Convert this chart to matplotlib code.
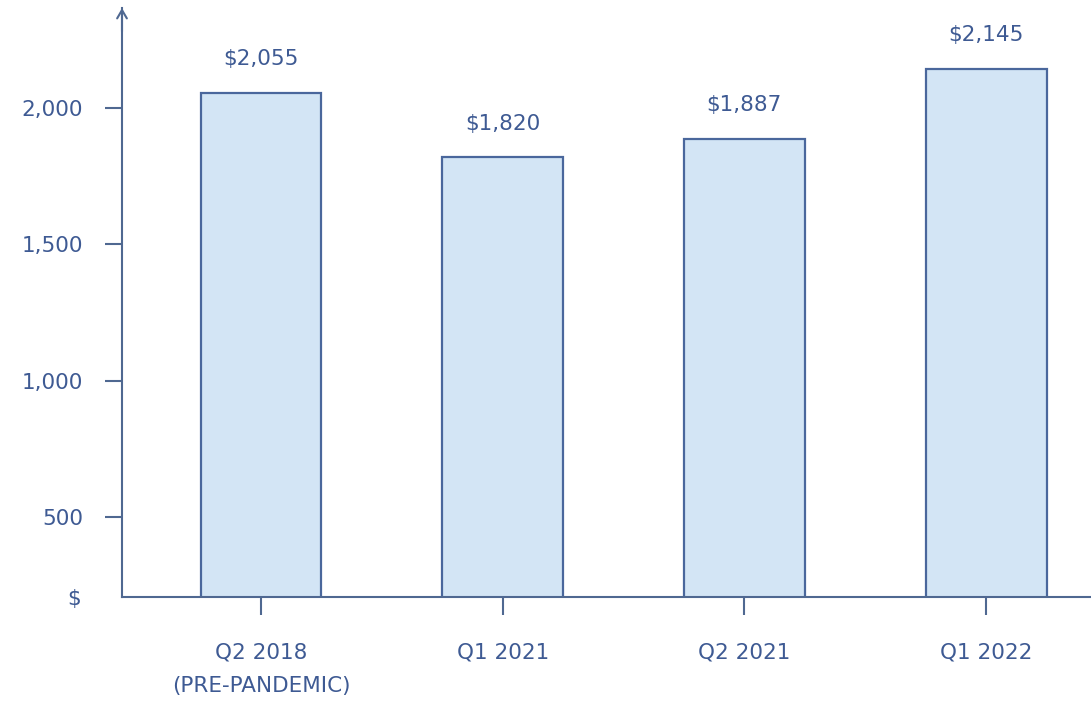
import matplotlib
matplotlib.use("Agg")
import matplotlib.pyplot as plt

categories = ["Q2 2018\n(PRE-PANDEMIC)", "Q1 2021", "Q2 2021", "Q1 2022"]
values = [2055, 1820, 1887, 2145]
value_labels = ["$2,055", "$1,820", "$1,887", "$2,145"]
y_ticks = [500, 1000, 1500, 2000]
y_tick_labels = ["500", "1,000", "1,500", "2,000"]

TEXT = "#3e5a93"
LINE = "#4f6891"
FILL = "#d3e5f5"
EDGE = "#4a679c"
FS = 15.5

plt.rcParams["font.family"] = ["DejaVu Sans"]

fig = plt.figure(figsize=(10.91, 7.04), dpi=100)
ax = fig.add_axes([122 / 1091, (704 - 597) / 704, 1 - 122 / 1091, (597 - 8) / 704])

x = list(range(len(categories)))
ax.bar(x, values, width=0.5, color=FILL, edgecolor=EDGE, linewidth=1.6, zorder=2)

for xi, v, lab in zip(x, values, value_labels):
    ax.annotate(lab, (xi, v), xytext=(0, 17), textcoords="offset points",
                ha="center", va="bottom", fontsize=FS, color=TEXT)

ax.set_xlim(-0.575, 3.434)
ax.set_ylim(207, 2367)

ax.set_xticks(x)
ax.set_xticklabels(categories, fontsize=FS, color=TEXT, linespacing=1.8)
ax.set_yticks(y_ticks)
ax.set_yticklabels(y_tick_labels, fontsize=FS, color=TEXT)

ax.tick_params(axis="y", length=12, width=1.5, color=LINE, pad=16)
ax.tick_params(axis="x", length=13, width=1.5, color=LINE, pad=20)

for side in ("top", "right"):
    ax.spines[side].set_visible(False)
for side in ("left", "bottom"):
    ax.spines[side].set_color(LINE)
    ax.spines[side].set_linewidth(1.5)

# open arrowhead at the top of the value axis
ax.annotate("", xy=(0, 1.0), xytext=(0, 0.96), xycoords="axes fraction",
            arrowprops=dict(arrowstyle="->,head_length=0.6,head_width=0.35",
                            color=LINE, lw=1.5, shrinkA=0, shrinkB=0),
            annotation_clip=False)

# currency unit under the value scale
ax.text(-0.042, -0.003, "$", transform=ax.transAxes, ha="right", va="center",
        fontsize=FS, color=TEXT)

fig.savefig("out.png", dpi=100, facecolor="white")
